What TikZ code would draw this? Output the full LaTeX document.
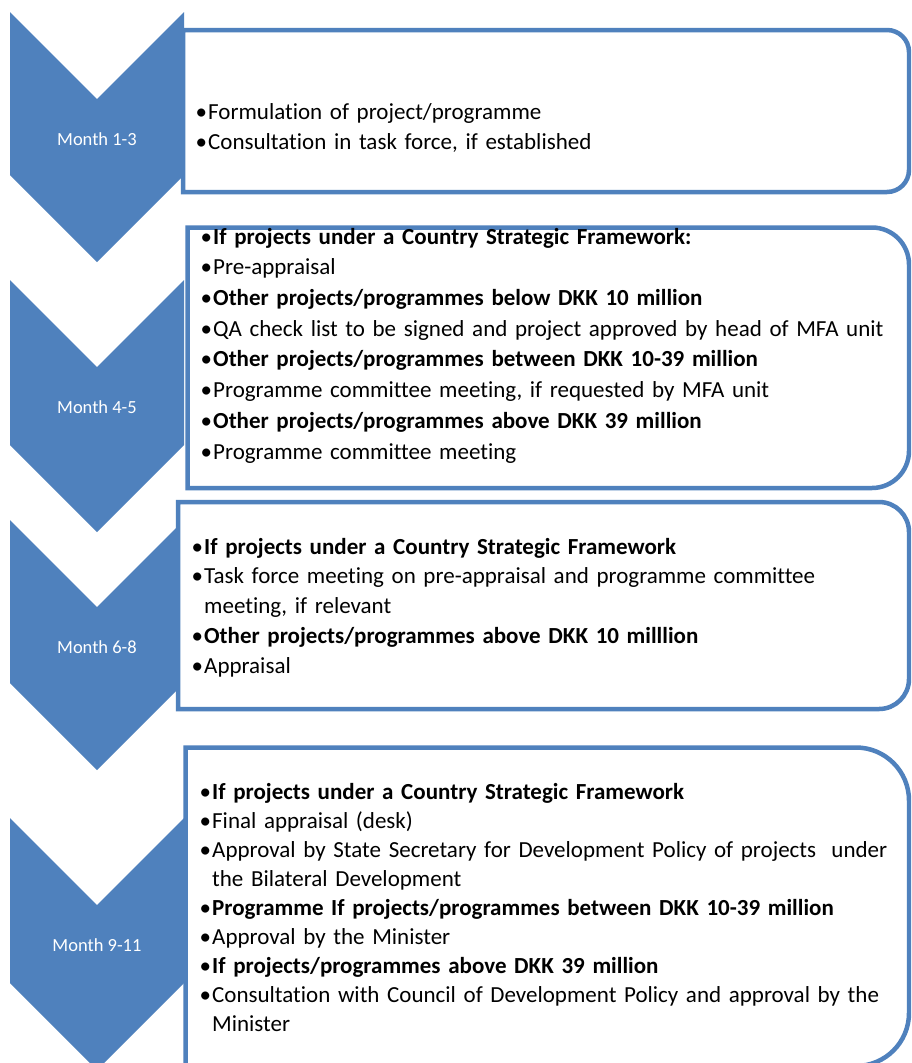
\documentclass[tikz,border=0pt]{standalone}
\usepackage{fontspec}
\setmainfont{Carlito}[Ligatures=NoCommon]
\definecolor{stageblue}{RGB}{79,129,189}
\newcommand{\itm}[1]{\hangindent=12.5pt\hangafter=1\noindent\makebox[12.5pt][l]{\textbullet}\strut#1\par}

\begin{document}
\begin{tikzpicture}[x=1pt,y=1pt,
  chevron/.style={fill=stageblue},
  stagebox/.style={draw=stageblue,line width=4.5pt,fill=white},
  month/.style={text=white,inner sep=0pt,font=\fontsize{18.5}{22}\selectfont},
  items/.style={anchor=north west,inner sep=0pt,text width=720pt,align=left,font=\fontsize{23}{#1}\selectfont}]
  \clip (0,0) rectangle (911,-1063);
  \fill[white] (0,0) rectangle (911,-1063);
  % chevrons down the left side
  \foreach \t/\b in {12/175,280/445,520/683,818/983}
    \fill[chevron] (10,-\t) -- (97,{-\t-87}) -- (184,-\t) -- (184,-\b) -- (97,{-\b-87}) -- (10,-\b) -- cycle;
  \node[month] (m1) at (97,-139) {Month 1-3};
  \node[month] (m2) at (97,-407) {Month 4-5};
  \node[month] (m3) at (97,-647) {Month 6-8};
  \node[month] (m4) at (97,-945) {Month 9-11};
  % boxes, rounded on the right only
  \draw[stagebox] (183,-30) -- (887,-30) arc[start angle=90,end angle=0,radius=22]
    -- (909,-170) arc[start angle=0,end angle=-90,radius=22] -- (183,-192) -- cycle;
  \draw[stagebox] (187.5,-227.5) -- (872,-227.5) arc[start angle=90,end angle=0,radius=37]
    -- (909,-451) arc[start angle=0,end angle=-90,radius=37] -- (187.5,-488) -- cycle;
  \draw[stagebox] (178,-502) -- (879,-502) arc[start angle=90,end angle=0,radius=30]
    -- (909,-679) arc[start angle=0,end angle=-90,radius=30] -- (178,-709) -- cycle;
  \draw[stagebox] (185.5,-747.5) -- (856,-747.5) arc[start angle=90,end angle=0,radius=53]
    -- (909,-1013) arc[start angle=0,end angle=-90,radius=53] -- (185.5,-1066) -- cycle;
  % texts
  \node[items=30] (t1) at (195.5,-98) {%
    \itm{Formulation of project/programme}
    \itm{Consultation in task force, if established}};
  \node[items=30.7] (t2) at (200.5,-222.5) {%
    \itm{\textbf{If projects under a Country Strategic Framework:}}
    \itm{Pre-appraisal}
    \itm{\textbf{Other projects/programmes below DKK 10 million}}
    \itm{QA check list to be signed and project approved by head of MFA unit}
    \itm{\textbf{Other projects/programmes between DKK 10-39 million}}
    \itm{Programme committee meeting, if requested by MFA unit}
    \itm{\textbf{Other projects/programmes above DKK 39 million}}
    \itm{Programme committee meeting}};
  \node[items=29.75] (t3) at (191.5,-533) {%
    \itm{\textbf{If projects under a Country Strategic Framework}}
    \itm{Task force meeting on pre-appraisal and programme committee\newline meeting, if relevant}
    \itm{\textbf{Other projects/programmes above DKK 10 milllion}}
    \itm{Appraisal}};
  \node[items=29] (t4) at (199.5,-779) {%
    \itm{\textbf{If projects under a Country Strategic Framework}}
    \itm{Final appraisal (desk)}
    \itm{Approval by State Secretary for Development Policy of projects~ under\newline the Bilateral Development}
    \itm{\textbf{Programme If projects/programmes between DKK 10-39 million}}
    \itm{Approval by the Minister}
    \itm{\textbf{If projects/programmes above DKK 39 million}}
    \itm{Consultation with Council of Development Policy and approval by the\newline Minister}};
\end{tikzpicture}
\end{document}
